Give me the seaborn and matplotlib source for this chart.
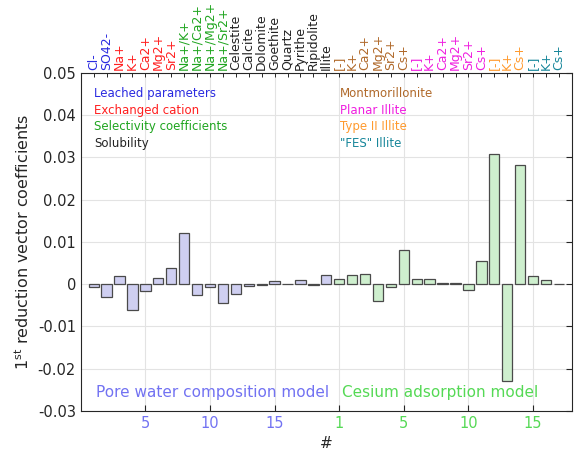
import numpy as np
import pandas as pd
import matplotlib
matplotlib.use("Agg")
import matplotlib.pyplot as plt
import seaborn as sns

# pore water composition model (19 parameters)
pore_labels = ["Cl-", "SO42-", "Na+", "K+", "Ca2+", "Mg2+", "Sr2+",
               "Na+/K+", "Na+/Ca2+", "Na+/Mg2+", "Na+/Sr2+",
               "Celestite", "Calcite", "Dolomite", "Goethite", "Quartz",
               "Pyrithe", "Ripidolite", "Illite"]
pore_groups = ["leach"] * 2 + ["exch"] * 5 + ["sel"] * 4 + ["sol"] * 8
pore_values = [-0.0008, -0.0031, 0.0018, -0.0062, -0.0017, 0.0015, 0.0038,
               0.0122, -0.0026, -0.0006, -0.0045, -0.0024, -0.0005, -0.0001,
               0.0008, 0.0001, 0.0010, -0.0003, 0.0022]

# cesium adsorption model (18 parameters)
cs_labels = ["[-]", "K+", "Ca2+", "Mg2+", "Sr2+", "Cs+",
             "[-]", "K+", "Ca2+", "Mg2+", "Sr2+", "Cs+",
             "[-]", "K+", "Cs+",
             "[-]", "K+", "Cs+"]
cs_groups = ["mont"] * 6 + ["planar"] * 6 + ["type2"] * 3 + ["fes"] * 3
cs_values = [0.0013, 0.0021, 0.0024, -0.0041, -0.0006, 0.0081, 0.0011,
             0.0013, 0.0002, 0.0002, -0.0014, 0.0054, 0.0307, -0.0229,
             0.0281, 0.0020, 0.0009, 0.0001]

pore_ticks = [5, 10, 15]
cs_ticks = [1, 5, 10, 15]

group_colors = {"leach": "#2a2ae0", "exch": "#ff1f1f", "sel": "#1fa51f",
                "sol": "#222222", "mont": "#b0692a", "planar": "#f01ee0",
                "type2": "#ff9a2e", "fes": "#17869a"}
group_names = {"leach": "Leached parameters", "exch": "Exchanged cation",
               "sel": "Selectivity coefficients", "sol": "Solubility",
               "mont": "Montmorillonite", "planar": "Planar Illite",
               "type2": "Type II Illite", "fes": "\"FES\" Illite"}
pore_color = "#7272f2"
cs_color = "#55d955"

n_pore = len(pore_values)
df = pd.DataFrame({
    "pos": list(range(1, n_pore + 1)) + list(range(n_pore + 1, n_pore + 1 + len(cs_values))),
    "value": pore_values + cs_values,
    "model": ["pore"] * n_pore + ["cs"] * len(cs_values),
})

sns.set_style("white")
plt.rcParams["font.family"] = ["DejaVu Sans"]
axis_col = "#262626"

fig = plt.figure(figsize=(5.77, 4.53), dpi=100)
ax = fig.add_axes([0.140, 0.0927, 0.851, 0.747])

sns.barplot(data=df, x="pos", y="value", hue="model", native_scale=True,
            dodge=False, palette={"pore": "#c9c9f7", "cs": "#c9f4c9"},
            edgecolor="#4a4a4a", linewidth=0.9, width=0.8, legend=False,
            zorder=3, ax=ax)

xmax = len(df) + 1
ax.set_xlim(0, xmax)
ax.set_ylim(-0.03, 0.05)
ax.set_yticks(np.arange(-0.03, 0.0501, 0.01))
ax.set_yticklabels(["-0.03", "-0.02", "-0.01", "0", "0.01", "0.02", "0.03", "0.04", "0.05"])

# bottom ticks: cesium "1" sits on the first cesium bar, the rest are offset by one
bottom_pos = pore_ticks + [n_pore + 1] + [n_pore + 1 + t for t in cs_ticks[1:]]
tick_cols = [pore_color] * len(pore_ticks) + [cs_color] * len(cs_ticks)
ax.set_xticks(bottom_pos)
ax.set_xticklabels([str(t) for t in pore_ticks] + [str(t) for t in cs_ticks])

ax.grid(True, color="#e3e3e3", linewidth=0.8, zorder=0)
ax.set_axisbelow(True)
ax.tick_params(axis="both", direction="in", length=4, width=0.8, labelsize=10.5,
               colors=axis_col, right=True, top=False)
for tick, col in zip(ax.xaxis.get_major_ticks(), tick_cols):
    tick.label1.set_color(col)
for s in ax.spines.values():
    s.set_color(axis_col)
    s.set_linewidth(0.8)

ax.set_xlabel("#", fontsize=11, color=axis_col, labelpad=4)
ax.set_ylabel("1$^{\\mathrm{st}}$ reduction vector coefficients", fontsize=11.5,
              color=axis_col, labelpad=4)

# top axis with parameter names
top = ax.twiny()
top.set_xlim(ax.get_xlim())
top.set_xticks(df["pos"])
top.set_xticklabels(pore_labels + cs_labels, rotation=90, fontsize=9)
top.tick_params(axis="x", direction="in", length=3, width=0.7, pad=2, color=axis_col)
for tick, g in zip(top.xaxis.get_major_ticks(), pore_groups + cs_groups):
    tick.label1.set_color(group_colors[g])
    tick.label2.set_color(group_colors[g])
for s in top.spines.values():
    s.set_visible(False)

# group legend text
row_y = [0.0450, 0.0411, 0.0372, 0.0333]
for key, y in zip(["leach", "exch", "sel", "sol"], row_y):
    ax.text(1.05, y, group_names[key], color=group_colors[key], fontsize=8.5, va="center")
for key, y in zip(["mont", "planar", "type2", "fes"], row_y):
    ax.text(n_pore + 1.05, y, group_names[key], color=group_colors[key], fontsize=8.5, va="center")

ax.text(1.2, -0.0257, "Pore water composition model", color=pore_color, fontsize=11, va="center")
ax.text(n_pore + 1.2, -0.0257, "Cesium adsorption model", color=cs_color, fontsize=11, va="center")

fig.savefig("out.png", dpi=100)
